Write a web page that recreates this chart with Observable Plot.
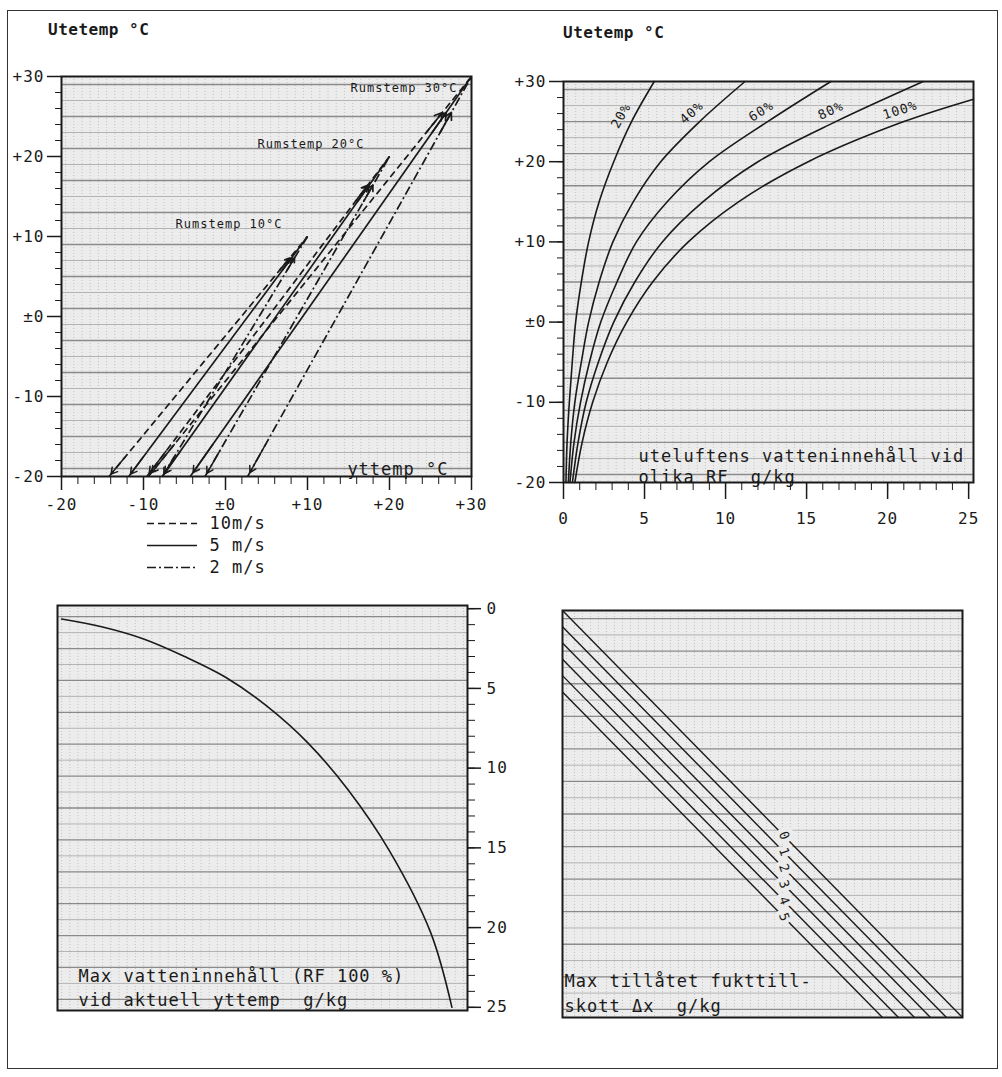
<!DOCTYPE html>
<html><head><meta charset="utf-8">
<script src="https://cdn.jsdelivr.net/npm/d3@7"></script>
<script src="https://cdn.jsdelivr.net/npm/@observablehq/plot@0.6"></script>
<style>
body{margin:0;background:#fff;}
#page{position:relative;width:1002px;height:1077px;overflow:hidden;font-family:"DejaVu Sans Mono",monospace;color:#1a1a1a;}
#page svg{position:absolute;}
.title{position:absolute;font-size:16px;font-weight:bold;letter-spacing:0.5px;}
#border{position:absolute;left:7px;top:10px;width:989px;height:1057px;border:1.5px solid #333;}
</style></head><body><div id="page"><div id="border"></div></div>
<script>
// ---------- DATA ----------
// Panel 1: outdoor temp vs surface temp (yttemp)
const uteTicks = [-20, -10, 0, 10, 20, 30];
const rumstemp = [10, 20, 30];
const windSpeeds = ["10m/s", "5 m/s", "2 m/s"];
const utetempStart = -20;                 // utetemp where the lines start
const yttempRum10 = [-14.2, -11.8, -7.7]; // yttemp at utetemp -20, per wind speed
const yttempRum20 = [-9.6, -7.7, -2.5];
const yttempRum30 = [-9.4, -4.3, 2.7];

// Panel 2: outdoor air water content (g/kg) at RF levels
const rfLevels = [20, 40, 60, 80, 100];
const rfTemp = [-20, -15, -10, -5, 0, 5, 10, 15, 20, 25, 30];
const rf20 = [0.15, 0.22, 0.36, 0.54, 0.75, 1.1, 1.55, 2.2, 3.1, 4.2, 5.6];
const rf40 = [0.3, 0.45, 0.7, 1.1, 1.55, 2.2, 3.05, 4.3, 6.0, 8.4, 11.2];
const rf60 = [0.4, 0.65, 1.05, 1.6, 2.3, 3.3, 4.5, 6.4, 9.0, 12.6, 16.5];
const rf80 = [0.55, 0.9, 1.4, 2.15, 3.1, 4.4, 6.1, 8.6, 12.0, 16.8, 22.2];
const rf100Temp = [-20, -15, -10, -5, 0, 5, 10, 15, 20, 25, 27.8];
const rf100 = [0.7, 1.15, 1.8, 2.7, 3.9, 5.5, 7.7, 10.8, 15.1, 21.0, 25.3];
const gTicks = [0, 5, 10, 15, 20, 25];

// Panel 3: max water content at surface temp (RF 100 %)
const maxTemp = [-20, -15, -10, -5, 0, 5, 10, 15, 20, 25, 27.6];
const maxVatten = [0.65, 1.15, 1.9, 3.0, 4.3, 6.1, 8.4, 11.4, 15.2, 20.3, 25];

// Panel 4: allowed moisture supplement lines
const deltaX = [0, 1, 2, 3, 4, 5];

// ---------- STYLE ----------
const ink = "#1a1a1a";
const paperFill = "#ececec";
const dashStyles = ["7,4", "none", "9,3,2,3"];
const baseStyle = {background: "transparent", fontFamily: "'DejaVu Sans Mono', monospace",
  fontSize: "16px", color: ink, overflow: "visible", letterSpacing: "1px"};
const fmtTemp = v => v > 0 ? "+" + v : v === 0 ? "±0" : "-" + Math.abs(v);
const page = document.getElementById("page");
function place(svg, left, top) { svg.style.left = left + "px"; svg.style.top = top + "px"; page.appendChild(svg); }
function paper(step, lo, hi, darkEvery, xs) {
  const all = d3.range(lo, hi, step);
  return [
    Plot.frame({fill: paperFill, stroke: null}),
    Plot.ruleX(xs, {stroke: "#c4c4c4", strokeWidth: 1, strokeDasharray: "1,2"}),
    Plot.ruleY(all.filter((d, i) => i % darkEvery !== 0), {stroke: "#b4b4b4", strokeWidth: 1}),
    Plot.ruleY(all.filter((d, i) => i % darkEvery === 0), {stroke: "#8a8a8a", strokeWidth: 1.3})
  ];
}

// ---------- PANEL 1 ----------
const ytArrays = [yttempRum10, yttempRum20, yttempRum30];
const rumLines = rumstemp.flatMap((r, ri) => windSpeeds.map((w, wi) => ({rum: r, wind: w, yt: ytArrays[ri][wi]})));
const along = (d, t) => ({x: d.yt + t * (d.rum - d.yt), y: utetempStart + t * (d.rum - utetempStart)});
const rumLabelOffset = r => r === 30 ? {dx: -14, dy: 12} : {dx: -25, dy: -12};

const p1 = Plot.plot({
  width: 500, height: 520, marginLeft: 61, marginRight: 29, marginTop: 76, marginBottom: 44,
  style: baseStyle,
  x: {domain: [-20, 30]}, y: {domain: [-20, 30]},
  marks: [
    ...paper(2, -19, 30, 2, d3.range(-19.5, 30, 1)),
    ...windSpeeds.map((w, i) => Plot.link(rumLines.filter(d => d.wind === w), {
      x1: "yt", y1: () => utetempStart, x2: "rum", y2: "rum",
      stroke: ink, strokeWidth: 1.7, strokeDasharray: dashStyles[i]})),
    Plot.arrow(rumLines, {x1: d => along(d, .86).x, y1: d => along(d, .86).y,
      x2: d => along(d, .91).x, y2: d => along(d, .91).y, headLength: 8, stroke: ink, strokeWidth: 1.7}),
    Plot.arrow(rumLines, {x1: d => along(d, .08).x, y1: d => along(d, .08).y,
      x2: d => along(d, .01).x, y2: d => along(d, .01).y, headLength: 7, stroke: ink, strokeWidth: 1.5}),
    ...rumstemp.map(r => Plot.text([r], {x: d => d, y: d => d, text: d => `Rumstemp ${d}°C`,
      textAnchor: "end", fontSize: 12, fill: ink, ...rumLabelOffset(r)})),
    Plot.text(["yttemp °C"], {frameAnchor: "bottom-right", text: d => d, textAnchor: "end",
      lineAnchor: "bottom", dx: -23, dy: -2, fontSize: 17, fill: ink}),
    Plot.axisY({ticks: uteTicks, tickFormat: fmtTemp, tickSize: 14, tickPadding: 3, label: null, strokeWidth: 1.5}),
    Plot.axisY({ticks: d3.range(-20, 31, 2), tickSize: 6, tickFormat: () => "", label: null}),
    Plot.axisX({ticks: uteTicks, tickFormat: fmtTemp, tickSize: 14, tickPadding: 8, label: null, strokeWidth: 1.5}),
    Plot.axisX({ticks: d3.range(-20, 31, 2), tickSize: 8, tickFormat: () => "", label: null}),
    Plot.frame({stroke: ink, strokeWidth: 2})
  ]
});
place(p1, 0, 0);

// legend
const leg = Plot.plot({
  width: 150, height: 72, marginLeft: 7, marginRight: 93, marginTop: 14, marginBottom: 13,
  style: {...baseStyle, fontSize: "17px"},
  x: {domain: [0, 1], axis: null}, y: {type: "point", domain: windSpeeds, padding: 0, axis: null},
  marks: [
    ...windSpeeds.map((w, i) => Plot.ruleY([w], {y: d => d, x1: () => 0, x2: () => 1,
      stroke: ink, strokeWidth: 1.6, strokeDasharray: dashStyles[i]})),
    Plot.text(windSpeeds, {x: () => 1, y: d => d, text: d => d, dx: 12, textAnchor: "start", fill: ink})
  ]
});
place(leg, 140, 508);

// ---------- PANEL 2 ----------
const rhCurves = [rf20, rf40, rf60, rf80, rf100];
const rhTemps = [rfTemp, rfTemp, rfTemp, rfTemp, rf100Temp];
const rhTable = rfLevels.flatMap((rf, i) => rhCurves[i].map((g, j) => ({rf, g, t: rhTemps[i][j]})));
const L2 = {width: 502, height: 530, marginLeft: 63, marginRight: 29, marginTop: 81, marginBottom: 48};
const xDom2 = [0, 25.3], yDom2 = [-20, 30];
const kx2 = (L2.width - L2.marginLeft - L2.marginRight) / (xDom2[1] - xDom2[0]);
const ky2 = (L2.height - L2.marginTop - L2.marginBottom) / (yDom2[1] - yDom2[0]);
const rhLabelMarks = rfLevels.map((rf, i) => {
  const g = rhCurves[i], t = rhTemps[i];
  const a = Math.atan2(-(t[10] - t[9]) * ky2, (g[10] - g[9]) * kx2);
  const off = 12;
  return Plot.text([{rf, g: g[9], t: t[9]}], {x: "g", y: "t", text: d => d.rf + "%",
    rotate: a * 180 / Math.PI, dx: off * Math.sin(a), dy: -off * Math.cos(a), fontSize: 13, fill: ink});
});
const p2 = Plot.plot({
  ...L2, style: baseStyle,
  x: {domain: xDom2}, y: {domain: yDom2},
  marks: [
    ...paper(2, -19, 30, 2, d3.range(0.25, 25.3, 0.5)),
    Plot.line(rhTable, {x: "g", y: "t", z: "rf", curve: "catmull-rom", stroke: ink, strokeWidth: 1.6}),
    ...rhLabelMarks,
    Plot.text(["uteluftens vatteninnehåll vid\nolika RF  g/kg"], {frameAnchor: "bottom-left", text: d => d,
      textAnchor: "start", lineAnchor: "bottom", dx: 75, dy: 0, lineHeight: 1.18, fontSize: 17, fill: ink}),
    Plot.axisY({ticks: uteTicks, tickFormat: fmtTemp, tickSize: 14, tickPadding: 3, label: null, strokeWidth: 1.5}),
    Plot.axisY({ticks: d3.range(-20, 31, 2), tickSize: 6, tickFormat: () => "", label: null}),
    Plot.axisX({ticks: gTicks, tickSize: 17, tickPadding: 13, label: null, strokeWidth: 1.5}),
    Plot.axisX({ticks: d3.range(0, 26, 1), tickSize: 8, tickFormat: () => "", label: null}),
    Plot.frame({stroke: ink, strokeWidth: 2})
  ]
});
place(p2, 500, 0);

// ---------- PANEL 3 ----------
const maxTable = maxTemp.map((t, i) => ({t, g: maxVatten[i]}));
const p3 = Plot.plot({
  width: 520, height: 460, marginLeft: 57, marginRight: 53, marginTop: 25, marginBottom: 30,
  style: baseStyle,
  x: {domain: [-20.5, 29.5], axis: null}, y: {domain: [-0.2, 25.2], reverse: true},
  marks: [
    ...paper(1, 0.5, 25, 2, d3.range(-20, 29.5, 1)),
    Plot.line(maxTable, {x: "t", y: "g", curve: "catmull-rom", stroke: ink, strokeWidth: 1.6}),
    Plot.text(["Max vatteninnehåll (RF 100 %)\nvid aktuell yttemp  g/kg"], {frameAnchor: "bottom-left", text: d => d,
      textAnchor: "start", lineAnchor: "bottom", dx: 21, dy: -5, lineHeight: 1.4, fontSize: 17, fill: ink}),
    Plot.axisY({anchor: "right", ticks: gTicks, tickSize: 13, tickPadding: 6, label: null, strokeWidth: 1.5}),
    Plot.axisY({anchor: "right", ticks: d3.range(0, 26, 1), tickSize: 7, tickFormat: () => "", label: null}),
    Plot.frame({stroke: ink, strokeWidth: 2})
  ]
});
place(p3, 0, 580);

// ---------- PANEL 4 ----------
const gMax = 25;
const p4 = Plot.plot({
  width: 482, height: 460, marginLeft: 42, marginRight: 40, marginTop: 30, marginBottom: 23,
  style: baseStyle,
  x: {domain: [0, gMax], axis: null}, y: {domain: [0, gMax], reverse: true, axis: null},
  marks: [
    ...paper(1, 0.5, 25, 2, d3.range(0.25, 25, 0.5)),
    Plot.link(deltaX, {x1: () => 0, y1: d => d, x2: d => gMax - d, y2: () => gMax, stroke: ink, strokeWidth: 1.4}),
    Plot.text(deltaX, {x: () => 13.85, y: d => 13.85 + d, text: d => String(d), rotate: 70,
      fontSize: 13, fill: ink, stroke: paperFill, strokeWidth: 9}),
    Plot.text(["Max tillåtet fukttill-\nskott Δx  g/kg"], {frameAnchor: "bottom-left", text: d => d,
      textAnchor: "start", lineAnchor: "bottom", dx: 2, dy: -6, lineHeight: 1.45, fontSize: 17, fill: ink}),
    Plot.frame({stroke: ink, strokeWidth: 2})
  ]
});
place(p4, 520, 580);

// titles
[["Utetemp °C", 48, 20], ["Utetemp °C", 563, 23]].forEach(([t, l, tp]) => {
  const d = document.createElement("div");
  d.className = "title"; d.textContent = t; d.style.left = l + "px"; d.style.top = tp + "px";
  page.appendChild(d);
});
</script></body></html>
